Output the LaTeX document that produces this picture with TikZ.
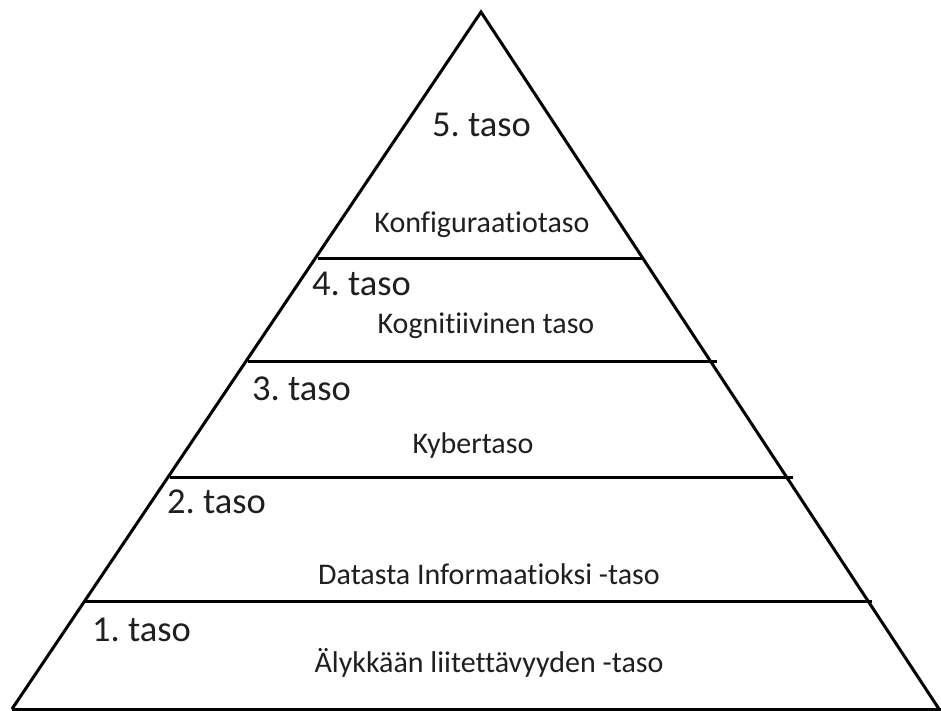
\documentclass[tikz,border=0pt]{standalone}
\usepackage{fontspec}
\setmainfont{Carlito}[Ligatures={TeX,NoCommon}]
\frenchspacing
\begin{document}
\begin{tikzpicture}[x=1pt,y=-1pt,
  edge/.style={line width=3pt,black},
  levelnum/.style={anchor=base west,inner sep=0pt,font=\fontsize{36.5}{40}\selectfont,text=black!88},
  levelname/.style={anchor=base,inner sep=0pt,font=\fontsize{30}{34}\selectfont,text=black!88}]
  \useasboundingbox (0,0) rectangle (941,711);
  % pyramid outline
  \coordinate (apex) at (481,12);
  \coordinate (bl) at (12,709);
  \coordinate (br) at (941,709);
  \draw[edge,line join=miter] (bl) -- (apex) -- (939,709);
  \draw[edge] (bl) -- (br);
  % level dividers
  \draw[edge] (318,258) -- (642,258);
  \draw[edge] (248,361) -- (717,361);
  \draw[edge] (170,477) -- (793,477);
  \draw[edge] (85,601) -- (872,601);
  % level 5
  \node[levelnum] (n5) at (432,137) {5. taso};
  \node[levelname] (t5) at (482,233) {Konfiguraatiotaso};
  % level 4
  \node[levelnum] (n4) at (312,295) {4. taso};
  \node[levelname] (t4) at (486,333) {Kognitiivinen taso};
  % level 3
  \node[levelnum] (n3) at (252,400) {3. taso};
  \node[levelname] (t3) at (473,453) {Kybertaso};
  % level 2
  \node[levelnum] (n2) at (167,513) {2. taso};
  \node[levelname] (t2) at (489,584) {Datasta Informaatioksi -taso};
  % level 1
  \node[levelnum] (n1) at (92,641) {1. taso};
  \node[levelname] (t1) at (489,672) {Älykkään liitettävyyden -taso};
\end{tikzpicture}
\end{document}
